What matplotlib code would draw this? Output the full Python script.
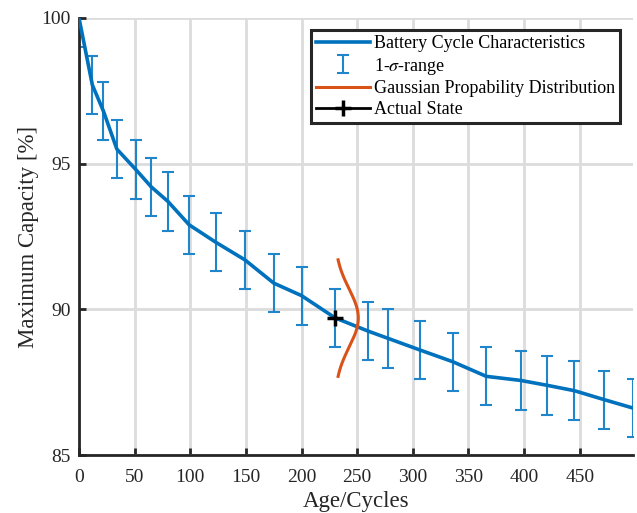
import numpy as np
import matplotlib
matplotlib.use("Agg")
import matplotlib.pyplot as plt
from matplotlib.lines import Line2D

# Data
cycles = [0, 12, 22, 34, 51, 65, 80, 99, 123, 149, 175, 200, 230, 260, 278, 306, 336, 366, 397, 421, 445, 472, 498]
capacity = [100.0, 97.7, 96.8, 95.5, 94.8, 94.2, 93.7, 92.9, 92.3, 91.7, 90.9, 90.47, 89.71, 89.25, 89.0, 88.61, 88.2, 87.7, 87.56, 87.39, 87.21, 86.9, 86.61]
sigma = [1.0] * len(cycles)

state_cycle = 230
state_capacity = 89.7
state_sigma = 1.0
gauss_width = 21.0  # horizontal scale of the drawn pdf (cycles)

blue = "#0072BD"
ebar_blue = "#1f86cc"
orange = "#D95319"

plt.rcParams['font.family'] = ['Liberation Serif', 'DejaVu Serif']
plt.rcParams['mathtext.fontset'] = 'stix'

fig = plt.figure(figsize=(6.37, 5.13), dpi=100)
ax = fig.add_axes([0.124, 0.113, 0.870, 0.852])

line, = ax.plot(cycles, capacity, color=blue, lw=2.6, zorder=3)
eb = ax.errorbar(cycles, capacity, yerr=sigma, fmt='none', ecolor=ebar_blue,
                 elinewidth=1.5, capsize=4, capthick=1.5, zorder=2)

yy = np.linspace(state_capacity - 2 * state_sigma, state_capacity + 2 * state_sigma, 200)
xx = state_cycle + gauss_width * np.exp(-0.5 * ((yy - state_capacity) / state_sigma) ** 2)
ax.plot(xx, yy, color=orange, lw=2.2, zorder=4)
ax.plot([state_cycle], [state_capacity], marker='+', color='black', ms=12, mew=2.5,
        lw=2, zorder=5)

ax.set_xlim(0, 498)
ax.set_ylim(85, 100)
ax.set_xticks(np.arange(0, 451, 50))
ax.set_yticks([85, 90, 95, 100])
ax.grid(True, color='#dcdcdc', lw=2)
ax.set_axisbelow(True)
for s in ['top', 'right']:
    ax.spines[s].set_visible(False)
for s in ['left', 'bottom']:
    ax.spines[s].set_linewidth(2)
    ax.spines[s].set_color('#262626')
ax.tick_params(direction='in', length=5, width=2, labelsize=14, colors='#262626')
ax.tick_params(axis='x', pad=10)
ax.tick_params(axis='y', pad=6)
ax.set_xlabel("Age/Cycles", fontsize=16.5, color='#262626', labelpad=4)
ax.set_ylabel("Maximum Capacity [%]", fontsize=16.5, color='#262626', labelpad=2)

handles = [line, eb,
           Line2D([], [], color=orange, lw=2.2),
           Line2D([], [], color='black', marker='+', ms=12, mew=2.5, lw=2)]
labels = ["Battery Cycle Characteristics", r"1-$\sigma$-range",
          "Gaussian Propability Distribution", "Actual State"]
leg = ax.legend(handles, labels, loc='upper right', bbox_to_anchor=(0.977, 0.973),
                fontsize=13, frameon=True, fancybox=False, edgecolor='#262626',
                handlelength=3.0, handletextpad=0.2, borderpad=0.3, labelspacing=0.2,
                borderaxespad=0.0)
leg.get_frame().set_linewidth(2.2)
leg.get_frame().set_alpha(1)

fig.savefig("out.png", dpi=100)
